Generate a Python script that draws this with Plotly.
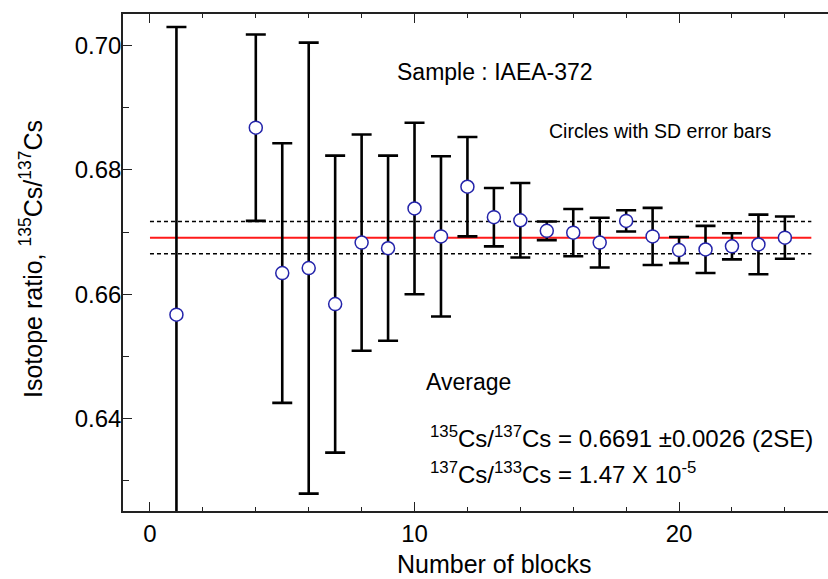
import plotly.graph_objects as go

# Block-by-block 135Cs/137Cs ratios with 1 SD uncertainties
blocks = [1, 4, 5, 6, 7, 8, 9, 10, 11, 12, 13, 14, 15, 16, 17, 18, 19, 20, 21, 22, 23, 24]
ratio = [0.6567, 0.6868, 0.6634, 0.6642, 0.6584, 0.6683, 0.6674, 0.6738, 0.6693, 0.6773,
         0.6724, 0.6719, 0.6702, 0.6699, 0.6683, 0.6718, 0.6693, 0.6671, 0.6672, 0.6677,
         0.6680, 0.6691]
sd = [0.0463, 0.0150, 0.0209, 0.0363, 0.0239, 0.0174, 0.0149, 0.0138, 0.0129, 0.0080,
      0.0047, 0.0060, 0.0015, 0.0038, 0.0040, 0.0017, 0.0046, 0.0021, 0.0038, 0.0021,
      0.0048, 0.0034]

mean_ratio = 0.6691
two_se = 0.0026
line_span = [0, 25]

FONT = "Liberation Sans, Arial, sans-serif"

fig = go.Figure()

# mean and +/- 2SE band limits
fig.add_trace(go.Scatter(x=line_span, y=[mean_ratio + two_se] * 2, mode="lines",
                         line=dict(color="black", width=1.6, dash="4px,3px"),
                         showlegend=False, hoverinfo="skip"))
fig.add_trace(go.Scatter(x=line_span, y=[mean_ratio - two_se] * 2, mode="lines",
                         line=dict(color="black", width=1.6, dash="4px,3px"),
                         showlegend=False, hoverinfo="skip"))
fig.add_trace(go.Scatter(x=line_span, y=[mean_ratio] * 2, mode="lines",
                         line=dict(color="#ff1a1a", width=2),
                         showlegend=False, hoverinfo="skip"))

# individual blocks
fig.add_trace(go.Scatter(
    x=blocks, y=ratio, mode="markers",
    error_y=dict(type="data", array=sd, visible=True, color="black",
                 thickness=2.6, width=10),
    marker=dict(symbol="circle", size=13, color="white",
                line=dict(color="#2424aa", width=1.5)),
    showlegend=False,
))

L, R, T, B = 123, 0, 14, 68
W, H = 828, 579
pw, ph = W - L - R, H - T - B


def px(xp):
    return (xp - L) / pw


def py(yp):
    return (H - B - yp) / ph


notes = [
    ("Sample : IAEA-372", 395, 72, 23),
    ("Circles with SD error bars", 547, 131, 19.5),
    ("Average", 424, 382, 23),
    ("<sup>135</sup>Cs/<sup>137</sup>Cs = 0.6691 \u00b10.0026 (2SE)", 428, 437, 24),
    ("<sup>137</sup>Cs/<sup>133</sup>Cs = 1.47 X 10<sup>-5</sup>", 428, 473, 24),
]
for text, xp, yp, size in notes:
    fig.add_annotation(text=text, x=px(xp), y=py(yp), xref="paper", yref="paper",
                       xanchor="left", yanchor="middle", showarrow=False,
                       font=dict(family=FONT, size=size, color="black"))

fig.add_annotation(text="Number of blocks", x=px(494), y=py(580), xref="paper", yref="paper",
                   xanchor="center", yanchor="bottom", showarrow=False,
                   font=dict(family=FONT, size=25, color="black"))
fig.add_annotation(text="Isotope ratio, <sup>135</sup>Cs/<sup>137</sup>Cs", x=px(31), y=py(259),
                   xref="paper", yref="paper", xanchor="center", yanchor="middle",
                   textangle=-90, showarrow=False,
                   font=dict(family=FONT, size=25, color="black"))

fig.update_layout(
    width=W, height=H,
    margin=dict(l=L, r=R, t=T, b=B),
    paper_bgcolor="white", plot_bgcolor="white",
    font=dict(family=FONT, color="black"),
)
fig.update_xaxes(
    range=[-1.02, 25.63], dtick=10, tick0=0,
    ticks="inside", ticklen=9, tickwidth=1.3, tickcolor="#222",
    minor=dict(dtick=2, tick0=0, ticks="inside", ticklen=4, tickwidth=1.3, tickcolor="#222"),
    showline=True, linecolor="#222", linewidth=1.5, mirror="ticks",
    showgrid=False, zeroline=False,
    tickfont=dict(family=FONT, size=24, color="black"),
)
fig.update_yaxes(
    range=[0.6251, 0.7051], dtick=0.02, tick0=0, tickformat=".2f",
    ticks="inside", ticklen=9, tickwidth=1.3, tickcolor="#222",
    minor=dict(dtick=0.01, tick0=0, ticks="inside", ticklen=6, tickwidth=1.3, tickcolor="#222"),
    showline=True, linecolor="#222", linewidth=1.5,
    showgrid=False, zeroline=False, ticklabelstandoff=-5,
    tickfont=dict(family=FONT, size=24, color="black"),
)

fig.write_html("out.html")
